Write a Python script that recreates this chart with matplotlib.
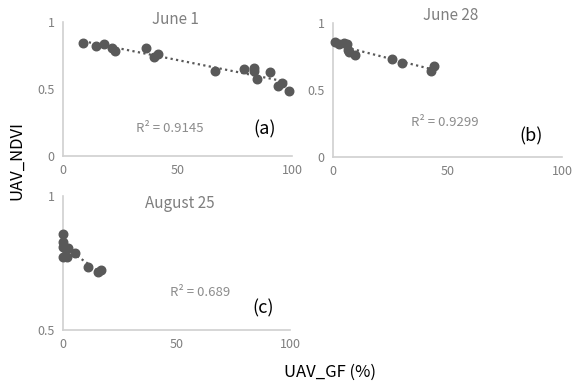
import numpy as np
import matplotlib
matplotlib.use("Agg")
import matplotlib.pyplot as plt

plt.rcParams['font.family'] = ['Noto Sans CJK JP', 'DejaVu Sans']

# panel (a) June 1
gf_a = [8.9, 14.4, 18.0, 21.5, 22.7, 36.1, 39.9, 41.6, 66.4, 79.0, 83.5, 83.5,
        84.6, 90.4, 94.0, 95.8, 98.6]
ndvi_a = [0.841, 0.823, 0.833, 0.808, 0.786, 0.808, 0.741, 0.761, 0.637, 0.649,
          0.659, 0.637, 0.572, 0.629, 0.522, 0.542, 0.485]

# panel (b) June 28
gf_b = [1.0, 2.7, 4.9, 5.9, 6.7, 7.0, 9.6, 25.6, 30.2, 43.0, 43.9]
ndvi_b = [0.86, 0.84, 0.848, 0.84, 0.80, 0.78, 0.76, 0.735, 0.70, 0.645, 0.676]

# panel (c) August 25
gf_c = [0.2, 0.2, 0.2, 1.0, 2.3, 0.2, 1.7, 5.3, 11.2, 15.4, 16.7]
ndvi_c = [0.858, 0.829, 0.811, 0.805, 0.805, 0.774, 0.771, 0.788, 0.736, 0.718, 0.724]

titles = ["June 1", "June 28", "August 25"]
r2_labels = ["R² = 0.9145", "R² = 0.9299", "R² = 0.689"]
panel_tags = ["(a)", "(b)", "(c)"]

W, H = 573, 383
fig = plt.figure(figsize=(W / 100, H / 100), dpi=100)


def px_axes(left, top, right, bottom):
    return fig.add_axes([left / W, 1 - bottom / H, (right - left) / W, (bottom - top) / H])


def style(ax, ylim, yticks):
    ax.set_xlim(0, 100)
    ax.set_ylim(*ylim)
    ax.set_xticks([0, 50, 100])
    ax.set_yticks(yticks)
    ax.set_yticklabels([("%g" % t) for t in yticks])
    for s in ["top", "right"]:
        ax.spines[s].set_visible(False)
    for s in ["left", "bottom"]:
        ax.spines[s].set_color("#d0d0d0")
        ax.spines[s].set_linewidth(1.2)
    ax.tick_params(length=0, labelsize=9, labelcolor="#7f7f7f", pad=6)
    ax.patch.set_alpha(0)


def draw(ax, x, y):
    x = np.array(x)
    y = np.array(y)
    k, b = np.polyfit(x, y, 1)
    xs = np.array([x.min(), x.max()])
    ax.plot(xs, k * xs + b, linestyle=(0, (1, 1.5)), color="#595959", linewidth=1.6, zorder=2)
    ax.scatter(x, y, s=38, color="#595959", zorder=3, clip_on=False)


ax_a = px_axes(63, 22, 292, 156)
style(ax_a, (0, 1), [0, 0.5, 1])
draw(ax_a, gf_a, ndvi_a)

ax_b = px_axes(333, 23, 562, 157)
style(ax_b, (0, 1), [0, 0.5, 1])
draw(ax_b, gf_b, ndvi_b)

ax_c = px_axes(63, 196, 290, 330)
style(ax_c, (0.5, 1), [0.5, 1])
draw(ax_c, gf_c, ndvi_c)


def ftext(x, y, s, **kw):
    fig.text(x / W, 1 - y / H, s, ha="center", va="center", **kw)


title_pos = [(175, 20), (451, 15), (180, 203)]
r2_pos = [(170, 129), (445, 123), (200, 293)]
tag_pos = [(265, 129), (531, 136), (263, 308)]
for i in range(3):
    ftext(*title_pos[i], titles[i], fontsize=11, color="#7f7f7f")
    ftext(*r2_pos[i], r2_labels[i], fontsize=9.5, color="#8c8c8c")
    ftext(*tag_pos[i], panel_tags[i], fontsize=13, color="black")

ftext(17, 160, "UAV_NDVI", fontsize=12, rotation=90, color="black")
ftext(330, 372, "UAV_GF (%)", fontsize=12, color="black")

fig.savefig("out.png", dpi=100, facecolor="white")
